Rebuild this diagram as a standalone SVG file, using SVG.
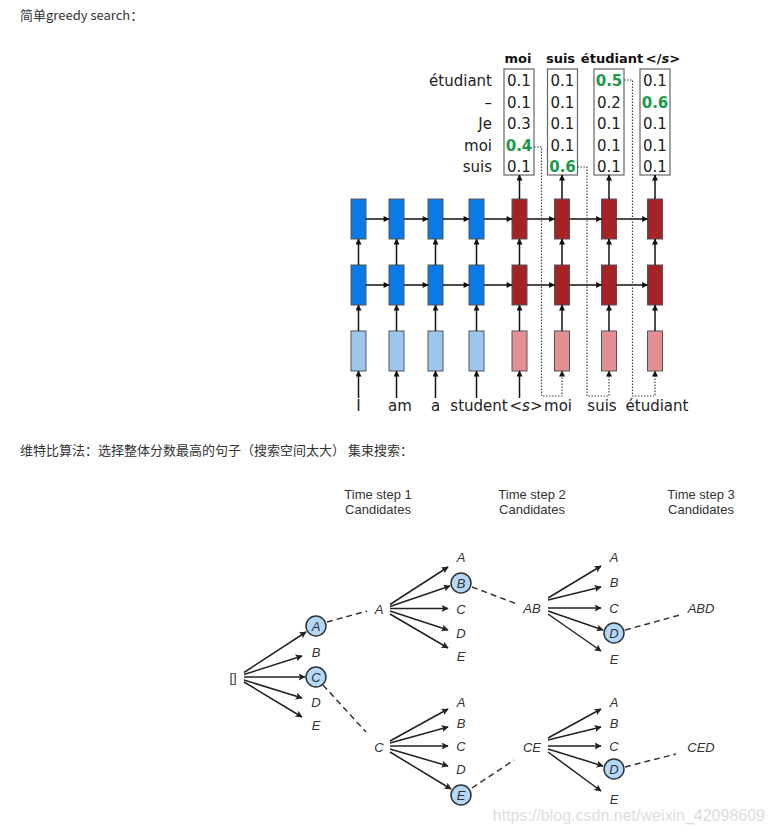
<svg xmlns="http://www.w3.org/2000/svg" width="775" height="834" viewBox="0 0 775 834">
  <style>
    .cap { font-family: "Noto Sans CJK SC", "Liberation Sans", sans-serif; font-size: 13px; fill: #333; }
    .dv { font-family: "DejaVu Sans", sans-serif; font-size: 15px; fill: #222; }
    .hd { font-family: "DejaVu Sans", sans-serif; font-size: 13px; font-weight: bold; fill: #111; }
    .num { font-family: "DejaVu Sans", sans-serif; font-size: 15px; fill: #222; text-anchor: middle; }
    .hi { font-weight: bold; fill: #1a9a48; }
    .box { fill: #fff; stroke: #666; stroke-width: 1.2; }
    .enc { fill: #0a7ae8; stroke: #555; stroke-width: 1; }
    .encin { fill: #9cc6f0; stroke: #555; stroke-width: 1; }
    .dec { fill: #a52226; stroke: #555; stroke-width: 1; }
    .decin { fill: #e38f93; stroke: #555; stroke-width: 1; }
    .a1 { stroke: #111; stroke-width: 1.5; fill: none; marker-end: url(#ah1); }
    .dota { stroke: #444; stroke-width: 1.2; fill: none; stroke-dasharray: 1.5 1.5; marker-end: url(#ah1); }
    .ts { font-family: "Liberation Sans", Arial, sans-serif; font-size: 13px; fill: #333; text-anchor: middle; }
    .lb { font-family: "Liberation Sans", Arial, sans-serif; font-size: 13px; font-style: italic; fill: #333; text-anchor: middle; }
    .up { font-style: normal; }
    .nd { fill: #b4d8f8; stroke: #333; stroke-width: 1.5; }
    .a2 { stroke: #222; stroke-width: 1.5; fill: none; marker-end: url(#ah2); }
    .ds { stroke: #333; stroke-width: 1.5; fill: none; stroke-dasharray: 6 4; }
  </style>
  <defs>
    <marker id="ah1" viewBox="0 0 10 10" refX="9" refY="5" markerUnits="userSpaceOnUse" markerWidth="7" markerHeight="6" orient="auto">
      <path d="M0,0 L10,5 L0,10 z" fill="#111"/>
    </marker>
    <marker id="ah2" viewBox="0 0 10 10" refX="9" refY="5" markerUnits="userSpaceOnUse" markerWidth="9" markerHeight="7" orient="auto">
      <path d="M0,0 L10,5 L0,10 L2,5 z" fill="#222"/>
    </marker>
  </defs>

  <rect width="775" height="834" fill="#fff"/>

  <!-- captions -->
  <text class="cap" x="20" y="20">简单greedy search：</text>
  <text class="cap" x="20" y="455">维特比算法：选择整体分数最高的句子（搜索空间太大） 集束搜索：</text>

  <!-- ===== greedy decoding: output probability tables ===== -->
  <g id="row-labels" class="dv" text-anchor="end">
    <text x="492" y="86">étudiant</text>
    <text x="492" y="107.5">–</text>
    <text x="492" y="129">Je</text>
    <text x="492" y="150.5">moi</text>
    <text x="492" y="172">suis</text>
  </g>

  <g id="table-moi">
    <text class="hd" x="518" y="63" text-anchor="middle">moi</text>
    <rect class="box" x="504" y="69" width="30" height="106"/>
    <text class="num" x="519" y="86">0.1</text>
    <text class="num" x="519" y="107.5">0.1</text>
    <text class="num" x="519" y="129">0.3</text>
    <text class="num hi" x="519" y="150.5">0.4</text>
    <text class="num" x="519" y="172">0.1</text>
  </g>
  <g id="table-suis">
    <text class="hd" x="560.5" y="63" text-anchor="middle">suis</text>
    <rect class="box" x="547.5" y="69" width="30" height="106"/>
    <text class="num" x="562.5" y="86">0.1</text>
    <text class="num" x="562.5" y="107.5">0.1</text>
    <text class="num" x="562.5" y="129">0.1</text>
    <text class="num" x="562.5" y="150.5">0.1</text>
    <text class="num hi" x="562.5" y="172">0.6</text>
  </g>
  <g id="table-etudiant">
    <text class="hd" x="612" y="63" text-anchor="middle">étudiant</text>
    <rect class="box" x="594" y="69" width="30" height="106"/>
    <text class="num hi" x="609" y="86">0.5</text>
    <text class="num" x="609" y="107.5">0.2</text>
    <text class="num" x="609" y="129">0.1</text>
    <text class="num" x="609" y="150.5">0.1</text>
    <text class="num" x="609" y="172">0.1</text>
  </g>
  <g id="table-end">
    <text class="hd" x="663" y="63" text-anchor="middle">&lt;/<tspan font-style="italic">s</tspan>&gt;</text>
    <rect class="box" x="640" y="69" width="30" height="106"/>
    <text class="num" x="655" y="86">0.1</text>
    <text class="num hi" x="655" y="107.5">0.6</text>
    <text class="num" x="655" y="129">0.1</text>
    <text class="num" x="655" y="150.5">0.1</text>
    <text class="num" x="655" y="172">0.1</text>
  </g>

  <!-- ===== greedy decoding: stacked RNN cells ===== -->
  <g id="enc-1"><rect class="enc" x="351" y="199" width="15" height="40"/><rect class="enc" x="351" y="265" width="15" height="40"/><rect class="encin" x="351" y="331" width="15" height="40"/></g>
  <g id="enc-2"><rect class="enc" x="389" y="199" width="15" height="40"/><rect class="enc" x="389" y="265" width="15" height="40"/><rect class="encin" x="389" y="331" width="15" height="40"/></g>
  <g id="enc-3"><rect class="enc" x="428" y="199" width="15" height="40"/><rect class="enc" x="428" y="265" width="15" height="40"/><rect class="encin" x="428" y="331" width="15" height="40"/></g>
  <g id="enc-4"><rect class="enc" x="469" y="199" width="15" height="40"/><rect class="enc" x="469" y="265" width="15" height="40"/><rect class="encin" x="469" y="331" width="15" height="40"/></g>
  <g id="dec-1"><rect class="dec" x="512" y="199" width="15" height="40"/><rect class="dec" x="512" y="265" width="15" height="40"/><rect class="decin" x="512" y="331" width="15" height="40"/></g>
  <g id="dec-2"><rect class="dec" x="554.5" y="199" width="15" height="40"/><rect class="dec" x="554.5" y="265" width="15" height="40"/><rect class="decin" x="554.5" y="331" width="15" height="40"/></g>
  <g id="dec-3"><rect class="dec" x="601.5" y="199" width="15" height="40"/><rect class="dec" x="601.5" y="265" width="15" height="40"/><rect class="decin" x="601.5" y="331" width="15" height="40"/></g>
  <g id="dec-4"><rect class="dec" x="647.5" y="199" width="15" height="40"/><rect class="dec" x="647.5" y="265" width="15" height="40"/><rect class="decin" x="647.5" y="331" width="15" height="40"/></g>

  <g id="input-words" class="dv" text-anchor="middle">
    <text x="358.5" y="411">I</text>
    <text x="400" y="411">am</text>
    <text x="435.5" y="411">a</text>
    <text x="479" y="411">student</text>
    <text x="526" y="411">&lt;<tspan font-style="italic">s</tspan>&gt;</text>
    <text x="558" y="411">moi</text>
    <text x="602" y="411">suis</text>
    <text x="657" y="411">étudiant</text>
  </g>

  <g id="rnn-connectors">
    <!-- recurrent arrows, top layer -->
    <line class="a1" x1="366" y1="219" x2="389" y2="219"/>
    <line class="a1" x1="404" y1="219" x2="428" y2="219"/>
    <line class="a1" x1="443" y1="219" x2="469" y2="219"/>
    <line class="a1" x1="484" y1="219" x2="512" y2="219"/>
    <line class="a1" x1="527" y1="219" x2="554.5" y2="219"/>
    <line class="a1" x1="569.5" y1="219" x2="601.5" y2="219"/>
    <line class="a1" x1="616.5" y1="219" x2="647.5" y2="219"/>
    <!-- recurrent arrows, bottom layer -->
    <line class="a1" x1="366" y1="285" x2="389" y2="285"/>
    <line class="a1" x1="404" y1="285" x2="428" y2="285"/>
    <line class="a1" x1="443" y1="285" x2="469" y2="285"/>
    <line class="a1" x1="484" y1="285" x2="512" y2="285"/>
    <line class="a1" x1="527" y1="285" x2="554.5" y2="285"/>
    <line class="a1" x1="569.5" y1="285" x2="601.5" y2="285"/>
    <line class="a1" x1="616.5" y1="285" x2="647.5" y2="285"/>
    <!-- embedding to layer 1, layer 1 to layer 2 -->
    <line class="a1" x1="358.5" y1="331" x2="358.5" y2="305"/><line class="a1" x1="358.5" y1="265" x2="358.5" y2="239"/>
    <line class="a1" x1="396.5" y1="331" x2="396.5" y2="305"/><line class="a1" x1="396.5" y1="265" x2="396.5" y2="239"/>
    <line class="a1" x1="435.5" y1="331" x2="435.5" y2="305"/><line class="a1" x1="435.5" y1="265" x2="435.5" y2="239"/>
    <line class="a1" x1="476.5" y1="331" x2="476.5" y2="305"/><line class="a1" x1="476.5" y1="265" x2="476.5" y2="239"/>
    <line class="a1" x1="519.5" y1="331" x2="519.5" y2="305"/><line class="a1" x1="519.5" y1="265" x2="519.5" y2="239"/>
    <line class="a1" x1="562" y1="331" x2="562" y2="305"/><line class="a1" x1="562" y1="265" x2="562" y2="239"/>
    <line class="a1" x1="609" y1="331" x2="609" y2="305"/><line class="a1" x1="609" y1="265" x2="609" y2="239"/>
    <line class="a1" x1="655" y1="331" x2="655" y2="305"/><line class="a1" x1="655" y1="265" x2="655" y2="239"/>
    <!-- decoder outputs to tables -->
    <line class="a1" x1="519.5" y1="199" x2="519.5" y2="175"/>
    <line class="a1" x1="562" y1="199" x2="562" y2="175"/>
    <line class="a1" x1="609" y1="199" x2="609" y2="175"/>
    <line class="a1" x1="655" y1="199" x2="655" y2="175"/>
    <!-- word inputs -->
    <line class="a1" x1="358.5" y1="398" x2="358.5" y2="371"/>
    <line class="a1" x1="396.5" y1="398" x2="396.5" y2="371"/>
    <line class="a1" x1="435.5" y1="398" x2="435.5" y2="371"/>
    <line class="a1" x1="476.5" y1="398" x2="476.5" y2="371"/>
    <line class="a1" x1="519.5" y1="398" x2="519.5" y2="371"/>
    <!-- greedy feedback of the chosen word -->
    <polyline class="dota" points="534,147 541.5,147 541.5,396 562,396 562,371"/>
    <polyline class="dota" points="577.5,167 587,167 587,396 609,396 609,371"/>
    <polyline class="dota" points="624,80 632.5,80 632.5,396 655,396 655,371"/>
  </g>

  <!-- ===== beam search tree ===== -->
  <g id="headers">
    <text class="ts" x="378" y="499">Time step 1</text>
    <text class="ts" x="378" y="514">Candidates</text>
    <text class="ts" x="532" y="499">Time step 2</text>
    <text class="ts" x="532" y="514">Candidates</text>
    <text class="ts" x="701" y="499">Time step 3</text>
    <text class="ts" x="701" y="514">Candidates</text>
  </g>

  <g id="root"><text class="lb up" x="233" y="682">[]</text></g>

  <g id="t1-A"><circle class="nd" cx="316" cy="626" r="10"/><text class="lb" x="316" y="630.5">A</text></g>
  <g id="t1-B"><text class="lb" x="316" y="656.5">B</text></g>
  <g id="t1-C"><circle class="nd" cx="316" cy="677" r="10"/><text class="lb" x="316" y="681.5">C</text></g>
  <g id="t1-D"><text class="lb" x="316" y="706.5">D</text></g>
  <g id="t1-E"><text class="lb" x="316" y="729.5">E</text></g>

  <g id="beam-A"><text class="lb" x="379" y="613.5">A</text></g>
  <g id="beam-C"><text class="lb" x="379" y="751.5">C</text></g>

  <g id="t2-A-A"><text class="lb" x="461" y="561.5">A</text></g>
  <g id="t2-A-B"><circle class="nd" cx="461" cy="583" r="10"/><text class="lb" x="461" y="587.5">B</text></g>
  <g id="t2-A-C"><text class="lb" x="461" y="613.5">C</text></g>
  <g id="t2-A-D"><text class="lb" x="461" y="637.5">D</text></g>
  <g id="t2-A-E"><text class="lb" x="461" y="660.5">E</text></g>

  <g id="t2-C-A"><text class="lb" x="461" y="706.5">A</text></g>
  <g id="t2-C-B"><text class="lb" x="461" y="727.5">B</text></g>
  <g id="t2-C-C"><text class="lb" x="461" y="750.5">C</text></g>
  <g id="t2-C-D"><text class="lb" x="461" y="773.5">D</text></g>
  <g id="t2-C-E"><circle class="nd" cx="461" cy="795" r="10"/><text class="lb" x="461" y="799.5">E</text></g>

  <g id="beam-AB"><text class="lb" x="532" y="612.5">AB</text></g>
  <g id="beam-CE"><text class="lb" x="532" y="751.5">CE</text></g>

  <g id="t3-AB-A"><text class="lb" x="614" y="561.5">A</text></g>
  <g id="t3-AB-B"><text class="lb" x="614" y="586.5">B</text></g>
  <g id="t3-AB-C"><text class="lb" x="614" y="612.5">C</text></g>
  <g id="t3-AB-D"><circle class="nd" cx="614" cy="633" r="10"/><text class="lb" x="614" y="637.5">D</text></g>
  <g id="t3-AB-E"><text class="lb" x="614" y="663.5">E</text></g>

  <g id="t3-CE-A"><text class="lb" x="614" y="706.5">A</text></g>
  <g id="t3-CE-B"><text class="lb" x="614" y="727.5">B</text></g>
  <g id="t3-CE-C"><text class="lb" x="614" y="750.5">C</text></g>
  <g id="t3-CE-D"><circle class="nd" cx="614" cy="769" r="10"/><text class="lb" x="614" y="773.5">D</text></g>
  <g id="t3-CE-E"><text class="lb" x="614" y="803.5">E</text></g>

  <g id="beam-ABD"><text class="lb" x="701" y="612.5">ABD</text></g>
  <g id="beam-CED"><text class="lb" x="701" y="751.5">CED</text></g>

  <g id="beam-connectors">
    <!-- step 1 expansions -->
    <line class="a2" x1="244" y1="672.5" x2="306" y2="632"/>
    <line class="a2" x1="244" y1="674.5" x2="302" y2="656"/>
    <line class="a2" x1="244" y1="677" x2="305" y2="677"/>
    <line class="a2" x1="244" y1="680" x2="302" y2="698"/>
    <line class="a2" x1="244" y1="682" x2="302" y2="717"/>
    <!-- step 2 expansions of A -->
    <line class="a2" x1="390" y1="604.5" x2="448" y2="567"/>
    <line class="a2" x1="390" y1="606.5" x2="450" y2="586"/>
    <line class="a2" x1="390" y1="608.5" x2="448" y2="608.5"/>
    <line class="a2" x1="390" y1="611" x2="448" y2="630"/>
    <line class="a2" x1="390" y1="614" x2="448" y2="648"/>
    <!-- step 2 expansions of C -->
    <line class="a2" x1="390" y1="741" x2="448" y2="709"/>
    <line class="a2" x1="390" y1="743" x2="448" y2="727"/>
    <line class="a2" x1="390" y1="746" x2="448" y2="746"/>
    <line class="a2" x1="390" y1="749" x2="448" y2="766"/>
    <line class="a2" x1="390" y1="752" x2="451" y2="789"/>
    <!-- step 3 expansions of AB -->
    <line class="a2" x1="548" y1="598" x2="601" y2="566"/>
    <line class="a2" x1="548" y1="600" x2="601" y2="587"/>
    <line class="a2" x1="548" y1="608" x2="601" y2="608"/>
    <line class="a2" x1="548" y1="611" x2="603" y2="630"/>
    <line class="a2" x1="548" y1="614" x2="601" y2="651"/>
    <!-- step 3 expansions of CE -->
    <line class="a2" x1="548" y1="738" x2="601" y2="709"/>
    <line class="a2" x1="548" y1="740" x2="601" y2="727"/>
    <line class="a2" x1="548" y1="746" x2="601" y2="746"/>
    <line class="a2" x1="548" y1="749" x2="603" y2="766"/>
    <line class="a2" x1="548" y1="752" x2="601" y2="791"/>
    <!-- kept beams -->
    <line class="ds" x1="327" y1="622" x2="367" y2="611"/>
    <line class="ds" x1="323" y1="685" x2="366" y2="732"/>
    <line class="ds" x1="472" y1="587" x2="517" y2="604"/>
    <line class="ds" x1="472" y1="788" x2="514" y2="760"/>
    <line class="ds" x1="625" y1="630" x2="680" y2="615"/>
    <line class="ds" x1="625" y1="767" x2="676" y2="754"/>
  </g>

  <text x="765" y="821" text-anchor="end" font-family="Liberation Sans, Arial, sans-serif" font-size="16" fill="#dedede">https://blog.csdn.net/weixin_42098609</text>
</svg>
